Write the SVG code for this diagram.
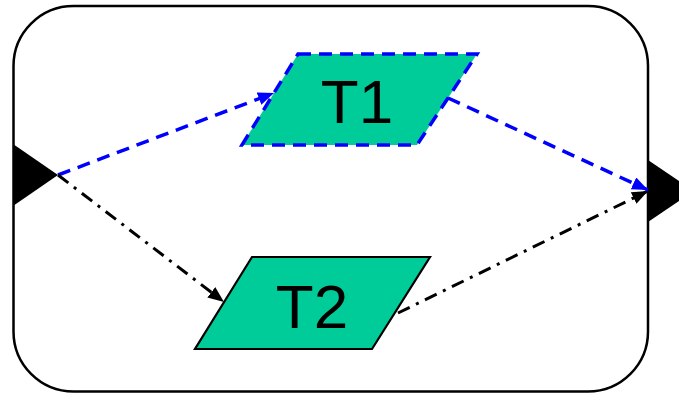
<svg xmlns="http://www.w3.org/2000/svg" width="679" height="393" viewBox="0 0 679 393">
<style>
.task{fill:#00CC99}
.lbl{font-family:"Liberation Sans",Arial,sans-serif;font-size:62px;fill:#000;text-anchor:middle}
.port{fill:#000}
.blue{fill:none;stroke:#0000FF;stroke-width:3.5;stroke-dasharray:13,8}
.dd{fill:none;stroke:#000;stroke-width:3;stroke-dasharray:13,7,3,7}
</style>
<defs>
<marker id="ab" markerUnits="userSpaceOnUse" markerWidth="17" markerHeight="13" refX="16" refY="6.5" orient="auto"><path d="M0,0 L16,6.5 L0,13 Z" fill="#0000FF"/></marker>
<marker id="ak" markerUnits="userSpaceOnUse" markerWidth="17" markerHeight="13" refX="16" refY="6.5" orient="auto"><path d="M0,0 L16,6.5 L0,13 Z" fill="#000"/></marker>
</defs>
<g id="container"><rect x="13.5" y="6" width="634.5" height="385.5" rx="60" ry="60" fill="#fff" stroke="#000" stroke-width="2.5"/></g>
<g id="port-in"><polygon class="port" points="13,144 13,206 58,175"/></g>
<g id="port-out"><polygon class="port" points="648,160 648,222 694,191"/></g>
<g id="T1"><polygon class="task" points="298,54 477,54 417,145 242,145" stroke="#0000FF" stroke-width="3.5" stroke-dasharray="13,8"/><text class="lbl" x="357" y="123">T1</text></g>
<g id="T2"><polygon class="task" points="252,257 430,257 372,349 195,349" stroke="#000" stroke-width="2.2"/><text class="lbl" x="312" y="328">T2</text></g>
<g id="connectors">
<path class="dd" d="M398,313 L648,191" marker-end="url(#ak)"/>
<path class="blue" d="M58,175 L274,93" marker-end="url(#ab)"/>
<path class="blue" d="M448,98 L648,190" marker-end="url(#ab)"/>
<path class="dd" d="M58,175 L224,302" marker-end="url(#ak)"/>
</g>
</svg>
